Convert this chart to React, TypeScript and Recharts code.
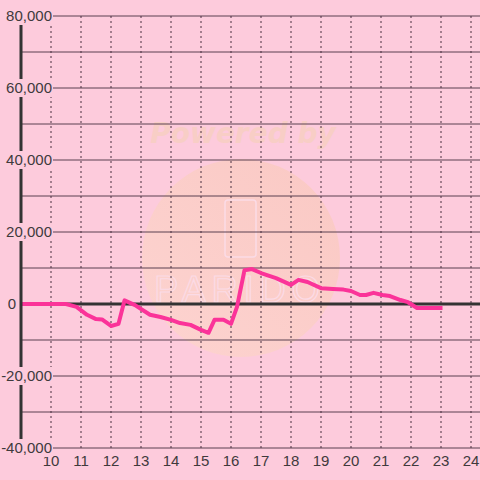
import React from "react";
import {
  LineChart,
  Line,
  XAxis,
  YAxis,
  CartesianGrid,
  ReferenceLine,
} from "recharts";

const hours = [
  9, 10.5, 10.85, 11.2, 11.5, 11.7, 12.0, 12.25, 12.45, 12.8, 13.3, 13.65,
  14.0, 14.3, 14.65, 15.0, 15.25, 15.45, 15.75, 16.0, 16.2, 16.45, 16.7, 17.0,
  17.5, 18.0, 18.25, 18.55, 19.0, 19.4, 19.75, 20.0, 20.3, 20.5, 20.75, 21.05,
  21.3, 21.65, 21.9, 22.2, 23.05,
];
const values = [
  0, 0, -800, -3000, -4200, -4300, -6100, -5500, 1000, -300, -3000, -3600,
  -4400, -5300, -5800, -7200, -8000, -4400, -4400, -5500, -800, 9400, 9700,
  8600, 7200, 5300, 6700, 6100, 4400, 4200, 4000, 3600, 2500, 2500, 3100, 2500,
  2200, 1100, 500, -1100, -1100,
];
const xTicks = [10, 11, 12, 13, 14, 15, 16, 17, 18, 19, 20, 21, 22, 23, 24];
const yTicks = [-40000, -20000, 0, 20000, 40000, 60000, 80000];
const yGrid = [-40000, -30000, -20000, -10000, 0, 10000, 20000, 30000, 40000, 50000, 60000, 70000, 80000];

const data = hours.map((h, i) => ({ h, v: values[i] }));

const BG = "#fdcbdc";
const FONT = "'Liberation Sans', Arial, sans-serif";
const TEXT = "#3f3a3d";

const fmt = (n: number) => n.toLocaleString("en-US");

const YTick = (props: any) => {
  const { x, y, payload } = props;
  const isZero = payload.value === 0;
  return (
    <g>
      {!isZero && (
        <rect x={x - 21} y={y - 9} width={53} height={18} fill={BG} />
      )}
      <text
        x={isZero ? x - 5 : x + 31}
        y={y}
        dy={5}
        textAnchor="end"
        fontSize={15}
        fontFamily={FONT}
        fill={TEXT}
      >
        {fmt(payload.value)}
      </text>
    </g>
  );
};

export default function App() {
  return (
    <div
      style={{
        position: "fixed",
        left: 0,
        top: 0,
        width: 480,
        height: 480,
        background: BG,
      }}
    >
      <svg
        width={480}
        height={480}
        style={{ position: "absolute", left: 0, top: 0 }}
      >
        <defs>
          <linearGradient id="wm" x1="1" y1="0" x2="0" y2="1">
            <stop offset="0" stopColor="#f9c8bc" />
            <stop offset="1" stopColor="#fdd6cc" />
          </linearGradient>
        </defs>
        <circle cx={241} cy={258} r={99} fill="url(#wm)" opacity={0.75} />
        <text
          x={243}
          y={143}
          textAnchor="middle"
          fontSize={28}
          fontWeight="bold"
          fontStyle="italic"
          fontFamily="'DejaVu Sans', Verdana, sans-serif"
          fill="#f8cec6"
        >
          Powered by
        </text>
        <rect
          x={225}
          y={200}
          width={31}
          height={57}
          rx={3}
          fill="none"
          stroke="#fbdbe6"
          strokeWidth={1.5}
        />
        <text
          x={240}
          y={302}
          textAnchor="middle"
          fontSize={36}
          fontFamily={FONT}
          fill="none"
          stroke="#fbdbe6"
          strokeWidth={1.2}
          letterSpacing={6}
        >
          PARIDO
        </text>
      </svg>
      <div style={{ position: "absolute", left: 0, top: 0, width: 480, height: 480 }}>
        <LineChart
          width={480}
          height={480}
          data={data}
          margin={{ top: 16, right: 0, bottom: 0, left: 0 }}
        >
          <CartesianGrid
            vertical={false}
            horizontalValues={yGrid}
            stroke="#5a4050"
            strokeWidth={1}
          />
          <CartesianGrid
            horizontal={false}
            verticalValues={xTicks}
            stroke="#4a3040"
            strokeDasharray="2 3"
            strokeWidth={1}
          />
          <ReferenceLine y={0} stroke="#333333" strokeWidth={3} />
          <XAxis
            dataKey="h"
            type="number"
            domain={[9, 24.3]}
            allowDataOverflow
            ticks={xTicks}
            interval={0}
            height={32}
            axisLine={false}
            tickLine={false}
            tickSize={0}
            tickMargin={7}
            tick={{ fontSize: 15, fontFamily: FONT, fill: TEXT }}
          />
          <YAxis
            type="number"
            domain={[-40000, 80000]}
            ticks={yTicks}
            interval={0}
            width={21}
            axisLine={{ stroke: "#333333", strokeWidth: 3 }}
            tickLine={false}
            tickSize={0}
            tickMargin={0}
            tick={<YTick />}
          />
          <Line
            type="linear"
            dataKey="v"
            stroke="#fb3399"
            strokeWidth={4}
            dot={false}
            strokeLinejoin="round"
            isAnimationActive={false}
          />
        </LineChart>
      </div>
    </div>
  );
}
